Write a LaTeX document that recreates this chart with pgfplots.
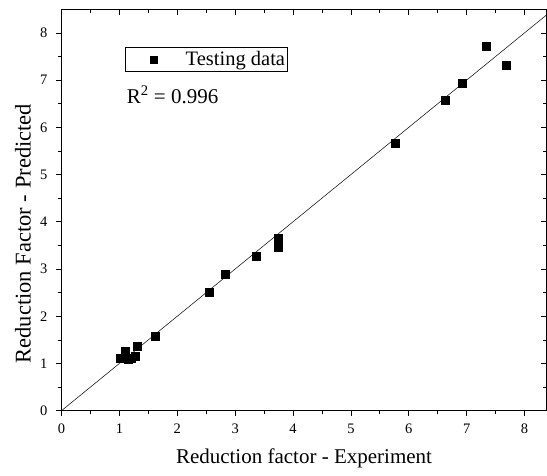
\documentclass[border=0pt]{standalone}
\usepackage{pgfplots}
\pgfplotsset{compat=1.18}
\usepackage{fontspec}
\setmainfont{Liberation Serif}
\begin{document}
\begin{tikzpicture}
\pgfplotsset{
  common/.style={
    scale only axis, width=485pt, height=401.4pt,
    xmin=0, xmax=8.38, ymin=0, ymax=8.5,
    xtick={0,...,8}, ytick={0,...,8}, minor tick num=1,
    major tick length=5.5pt, minor tick length=3.5pt,
    every tick/.style={black, line width=0.7pt},
    axis line style={line width=0.8pt},
    /pgf/number format/assume math mode=true,
    tick label style={font=\fontsize{14.5}{16}\selectfont},
  }
}
\begin{axis}[common,
  xtick pos=left, ytick pos=left, tick align=outside,
  xticklabel style={yshift=-4.5pt},
  yticklabel style={xshift=-5pt},
  xlabel={Reduction factor - Experiment},
  ylabel={Reduction Factor - Predicted},
  xlabel style={font=\fontsize{21}{24}\selectfont, at={(axis description cs:0.5,-0.086)}, anchor=north},
  ylabel style={font=\fontsize{22.5}{24}\selectfont, at={(axis description cs:-0.0557,0.441)}, anchor=south},
  legend style={at={(axis cs:1.097,7.70)}, anchor=north west, draw=black, line width=0.5pt,
    font=\fontsize{20.5}{24}\selectfont, inner xsep=2pt, inner ysep=0pt,
    nodes={inner xsep=0pt, inner ysep=4.2pt}, column sep=16pt},
  legend image code/.code={\path (0pt,-1pt) (42pt,1pt); \draw[#1,mark size=3.4pt] plot coordinates {(26pt,0pt)};},
  legend cell align=left,
]
\addplot[only marks, mark=square*, mark size=4pt, black] coordinates {
(1.01,1.11) (1.10,1.27) (1.15,1.10) (1.20,1.12) (1.28,1.15) (1.31,1.36) (1.62,1.58)
(2.55,2.50) (2.83,2.88) (3.37,3.28) (3.75,3.66) (3.75,3.47)
(5.77,5.66) (6.63,6.57) (6.93,6.94) (7.34,7.71) (7.68,7.32)
};
\addlegendentry{Testing data}
\addplot[black, line width=0.5pt, no marks, forget plot] coordinates {(0,0) (8.5,8.5)};
\node[anchor=base west, inner sep=0pt, font=\fontsize{21}{24}\selectfont] at (axis cs:1.126,6.511) {R\textsuperscript{2} = 0.996};
\end{axis}
\begin{axis}[common,
  xtick pos=right, ytick pos=right, tick align=inside,
  xticklabels={}, yticklabels={},
]
\addplot[draw=none] coordinates {(0,0)};
\end{axis}
\pgfresetboundingbox
\path[use as bounding box] ([xshift=-61.5pt,yshift=-64.3pt]current axis.south west) rectangle ([xshift=0.5pt,yshift=9.3pt]current axis.north east);
\end{tikzpicture}
\end{document}
